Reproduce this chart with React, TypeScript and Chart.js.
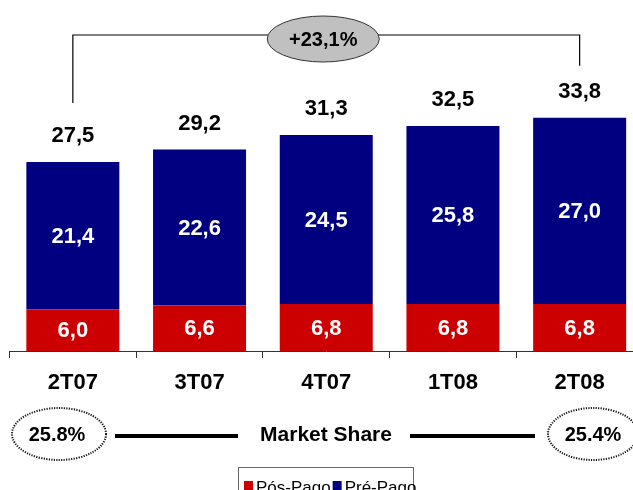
import React, { useEffect, useRef } from "react";
import { Chart, registerables } from "chart.js";

Chart.register(...registerables);

const categories = ["2T07", "3T07", "4T07", "1T08", "2T08"];
const posPago = [6.0, 6.6, 6.8, 6.8, 6.8];
const prePago = [21.4, 22.6, 24.5, 25.8, 27.0];
const totals = [27.5, 29.2, 31.3, 32.5, 33.8];
const growthLabel = "+23,1%";
const marketShare = ["25.8%", "25.4%"];
const marketShareTitle = "Market Share";
const seriesNames = ["Pós-Pago", "Pré-Pago"];

const RED = "#CC0000";
const NAVY = "#000080";
const FONT = "'Liberation Sans', Arial, Helvetica, sans-serif";

const fmt = (v: number) => v.toFixed(1).replace(".", ",");

const overlayPlugin = {
  id: "overlay",
  afterDatasetsDraw(chart: any) {
    const ctx = chart.ctx as CanvasRenderingContext2D;
    const m0 = chart.getDatasetMeta(0);
    const m1 = chart.getDatasetMeta(1);
    ctx.save();
    ctx.textAlign = "center";
    ctx.textBaseline = "middle";

    // segment labels
    ctx.fillStyle = "#fff";
    ctx.font = `bold 22px ${FONT}`;
    [m0, m1].forEach((meta: any, di: number) => {
      meta.data.forEach((bar: any, i: number) => {
        const v = chart.data.datasets[di].data[i] as number;
        ctx.fillText(fmt(v), bar.x, (bar.y + bar.base) / 2 + 1);
      });
    });

    // totals
    ctx.fillStyle = "#000";
    const labelYs: number[] = [];
    m1.data.forEach((bar: any, i: number) => {
      const y = bar.y - 26;
      labelYs.push(y);
      ctx.fillText(fmt(totals[i]), bar.x, y);
    });

    // bracket
    const n = m1.data.length;
    const xl = m1.data[0].x;
    const xr = m1.data[n - 1].x;
    const topY = 35;
    ctx.strokeStyle = "#000";
    ctx.lineWidth = 1.2;
    ctx.beginPath();
    ctx.moveTo(xl, labelYs[0] - 33);
    ctx.lineTo(xl, topY);
    ctx.lineTo(xr, topY);
    ctx.lineTo(xr, labelYs[n - 1] - 26);
    ctx.stroke();

    // growth ellipse
    const ex = (xl + xr) / 2 - 3;
    const ey = 39;
    ctx.beginPath();
    ctx.ellipse(ex, ey, 56, 23, 0, 0, Math.PI * 2);
    ctx.fillStyle = "#C0C0C0";
    ctx.fill();
    ctx.strokeStyle = "#333";
    ctx.lineWidth = 1;
    ctx.stroke();
    ctx.fillStyle = "#000";
    ctx.font = `bold 20px ${FONT}`;
    ctx.fillText(growthLabel, ex, ey + 1);

    // market share row
    const my = 434;
    const lx = 59;
    const rx = 593;
    ctx.setLineDash([1.2, 1.3]);
    ctx.lineWidth = 2;
    ctx.strokeStyle = "#111";
    ctx.beginPath();
    ctx.ellipse(lx, my, 47, 26, 0, 0, Math.PI * 2);
    ctx.stroke();
    ctx.beginPath();
    ctx.ellipse(rx, my, 45, 26, 0, 0, Math.PI * 2);
    ctx.stroke();
    ctx.setLineDash([]);
    ctx.fillStyle = "#000";
    ctx.font = `bold 20px ${FONT}`;
    ctx.fillText(marketShare[0], lx - 2, my + 1);
    ctx.fillText(marketShare[1], rx, my + 1);
    ctx.font = `bold 21px ${FONT}`;
    ctx.fillText(marketShareTitle, 326, my + 1);
    ctx.lineWidth = 4;
    ctx.strokeStyle = "#000";
    ctx.beginPath();
    ctx.moveTo(115, my + 2);
    ctx.lineTo(238, my + 2);
    ctx.moveTo(410, my + 2);
    ctx.lineTo(535, my + 2);
    ctx.stroke();

    // legend
    ctx.lineWidth = 1;
    ctx.strokeStyle = "#666";
    ctx.strokeRect(238.5, 467.5, 175, 30);
    ctx.font = `17px ${FONT}`;
    ctx.textAlign = "left";
    let x = 244;
    chart.data.datasets.forEach((ds: any) => {
      ctx.fillStyle = ds.backgroundColor;
      ctx.fillRect(x, 481, 9, 10);
      ctx.fillStyle = "#000";
      ctx.fillText(ds.label, x + 12, 488);
      x += 12 + ctx.measureText(ds.label).width + 2;
    });
    ctx.restore();
  },
};

export default function App() {
  const ref = useRef<HTMLCanvasElement>(null);
  useEffect(() => {
    if (!ref.current) return;
    const chart = new Chart(ref.current, {
      type: "bar",
      data: {
        labels: categories,
        datasets: [
          { label: seriesNames[0], data: posPago, backgroundColor: RED, barPercentage: 0.734, categoryPercentage: 1 },
          { label: seriesNames[1], data: prePago, backgroundColor: NAVY, barPercentage: 0.734, categoryPercentage: 1 },
        ],
      },
      options: {
        animation: false,
        responsive: true,
        maintainAspectRatio: false,
        layout: { padding: { left: 9.5, right: 0, top: 75, bottom: 0 } },
        plugins: { legend: { display: false }, tooltip: { enabled: false } },
        scales: {
          x: {
            stacked: true,
            grid: { display: true, drawOnChartArea: false, drawTicks: true, tickLength: 7, color: "#333", offset: true },
            border: { display: true, color: "#333", width: 1 },
            ticks: { color: "#000", font: { family: FONT, size: 22, weight: "bold" }, padding: 12 },
            afterFit: (s: any) => {
              s.height = 139;
            },
          },
          y: { stacked: true, display: false, min: 0, max: 40 },
        },
      },
      plugins: [overlayPlugin],
    });
    return () => chart.destroy();
  }, []);
  return (
    <div style={{ position: "fixed", left: 0, top: 0, width: 633, height: 490, overflow: "hidden", background: "#fff" }}>
      <div style={{ position: "relative", width: 643, height: 490 }}>
        <canvas ref={ref} />
      </div>
    </div>
  );
}
